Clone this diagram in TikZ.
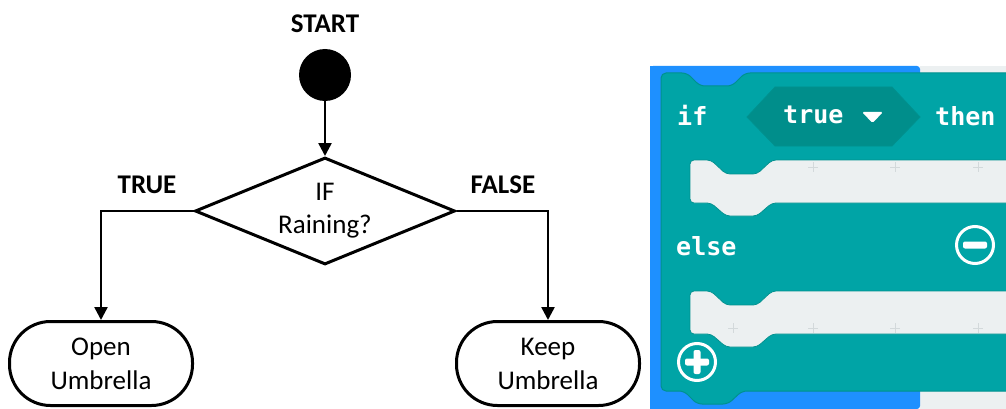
\documentclass[tikz,border=0pt]{standalone}
\usepackage{fontspec}
\setmainfont{Carlito}
\newfontfamily\blockfont{DejaVu Sans Mono}
\usetikzlibrary{shapes.geometric,arrows.meta}
\definecolor{bgblue}{HTML}{1E90FF}
\definecolor{blockteal}{HTML}{00A4A6}
\definecolor{tealedge}{HTML}{00918F}
\definecolor{hexteal}{HTML}{008E8B}
\definecolor{slotgray}{HTML}{ECF0F1}
\definecolor{gridmark}{HTML}{D3D9DB}
\begin{document}
\begin{tikzpicture}[x=1pt,y=-1pt,
  lbl/.style={font=\fontsize{27}{33}\selectfont},
  boldlbl/.style={font=\bfseries\fontsize{27}{33}\selectfont},
  flowline/.style={line width=2.5pt},
  arr/.style={flowline,-{Triangle[length=13pt,width=13pt]}},
  term/.style={draw,line width=3pt,rounded corners=41pt,minimum width=183pt,minimum height=84pt,align=center,font=\fontsize{27}{34}\selectfont},
  kw/.style={font=\blockfont\bfseries\fontsize{25}{30}\selectfont,text=white,anchor=base west,inner sep=0pt},
  slot/.style={fill=slotgray,draw=tealedge,line width=0.8pt,rounded corners=4pt},
  gm/.style={draw=gridmark,line width=1pt},
  roundbtn/.style={draw=white,circle,line width=3pt,minimum size=37pt,inner sep=0pt}
]
% canvas
\fill[white] (0,0) rectangle (1006,409);
\useasboundingbox (0,0) rectangle (1006,409);

% ---------------- flowchart ----------------
\node[boldlbl] (start) at (325,24) {START};
\node[circle,fill=black,minimum size=52pt,inner sep=0pt] (sc) at (325,75) {};
\node[diamond,draw,line width=3pt,minimum width=260pt,minimum height=107pt,shape aspect=2.4,inner sep=0pt,align=center,lbl] (dec) at (325,211) {IF\\Raining?};
\node[term] (open) at (101,363.5) {Open\\Umbrella};
\node[term] (keep) at (548,363.5) {Keep\\Umbrella};
\node[boldlbl] (true) at (147,185) {TRUE};
\node[boldlbl] (false) at (503,185) {FALSE};

\draw[arr] (sc) -- (dec);
\draw[arr] (dec.west) -| (open);
\draw[arr] (dec.east) -| (keep);

% ---------------- MakeCode block ----------------
\fill[slotgray] (920,66) rectangle (1006,409);
\fill[bgblue,rounded corners=3pt] (650,66) -- (920,66) -- (920,409) -- (650,409) -- cycle;
\fill[bgblue] (650,66) rectangle (910,409);

% block body
\filldraw[fill=blockteal,draw=tealedge,line width=1pt,rounded corners=5pt]
  (661,73) -- (687,73) -- (700,86) -- (732,86) -- (745,73) -- (1030,73)
  -- (1030,391) -- (742,391) -- (728,404) -- (697,404) -- (684,391) -- (661,391) -- cycle;

% statement slots
\filldraw[slot]
  (690,160) -- (711,160) -- (726,174) -- (757,174) -- (772,160) -- (1030,160)
  -- (1030,203) -- (772,203) -- (757,216) -- (726,216) -- (711,203) -- (690,203) -- cycle;
\filldraw[slot]
  (690,291) -- (711,291) -- (726,305) -- (757,305) -- (772,291) -- (1030,291)
  -- (1030,334) -- (772,334) -- (757,347) -- (726,347) -- (711,334) -- (690,334) -- cycle;

% grid marks
\foreach \gx in {813,895,978} {
  \draw[gm] (\gx-5,167) -- (\gx+5,167) (\gx,162) -- (\gx,172);
}
\foreach \gx in {733,813,895,978} {
  \draw[gm] (\gx-5,328) -- (\gx+5,328) (\gx,323) -- (\gx,333);
}

% condition hexagon
\filldraw[fill=hexteal,draw=tealedge,line width=0.8pt]
  (747,117) -- (775,87) -- (892,87) -- (920,117) -- (892,146) -- (775,146) -- cycle;

% keywords
\node[kw] (if) at (677,125) {if};
\node[kw] (cond) at (783,124) {true};
\node[kw] (then) at (935,125) {then};
\node[kw] (else) at (676,255) {else};
\fill[white,rounded corners=1.5pt] (862,112) -- (883,112) -- (872.5,123) -- cycle;

% minus / plus buttons
\node[roundbtn] (minus) at (975,245) {};
\fill[white,rounded corners=2pt] (963,241.5) rectangle (987,248.5);
\node[roundbtn] (plus) at (697,362) {};
\fill[white,rounded corners=2pt] (685,358.5) rectangle (709,365.5);
\fill[white,rounded corners=2pt] (693.5,350) rectangle (700.5,374);
\end{tikzpicture}
\end{document}
